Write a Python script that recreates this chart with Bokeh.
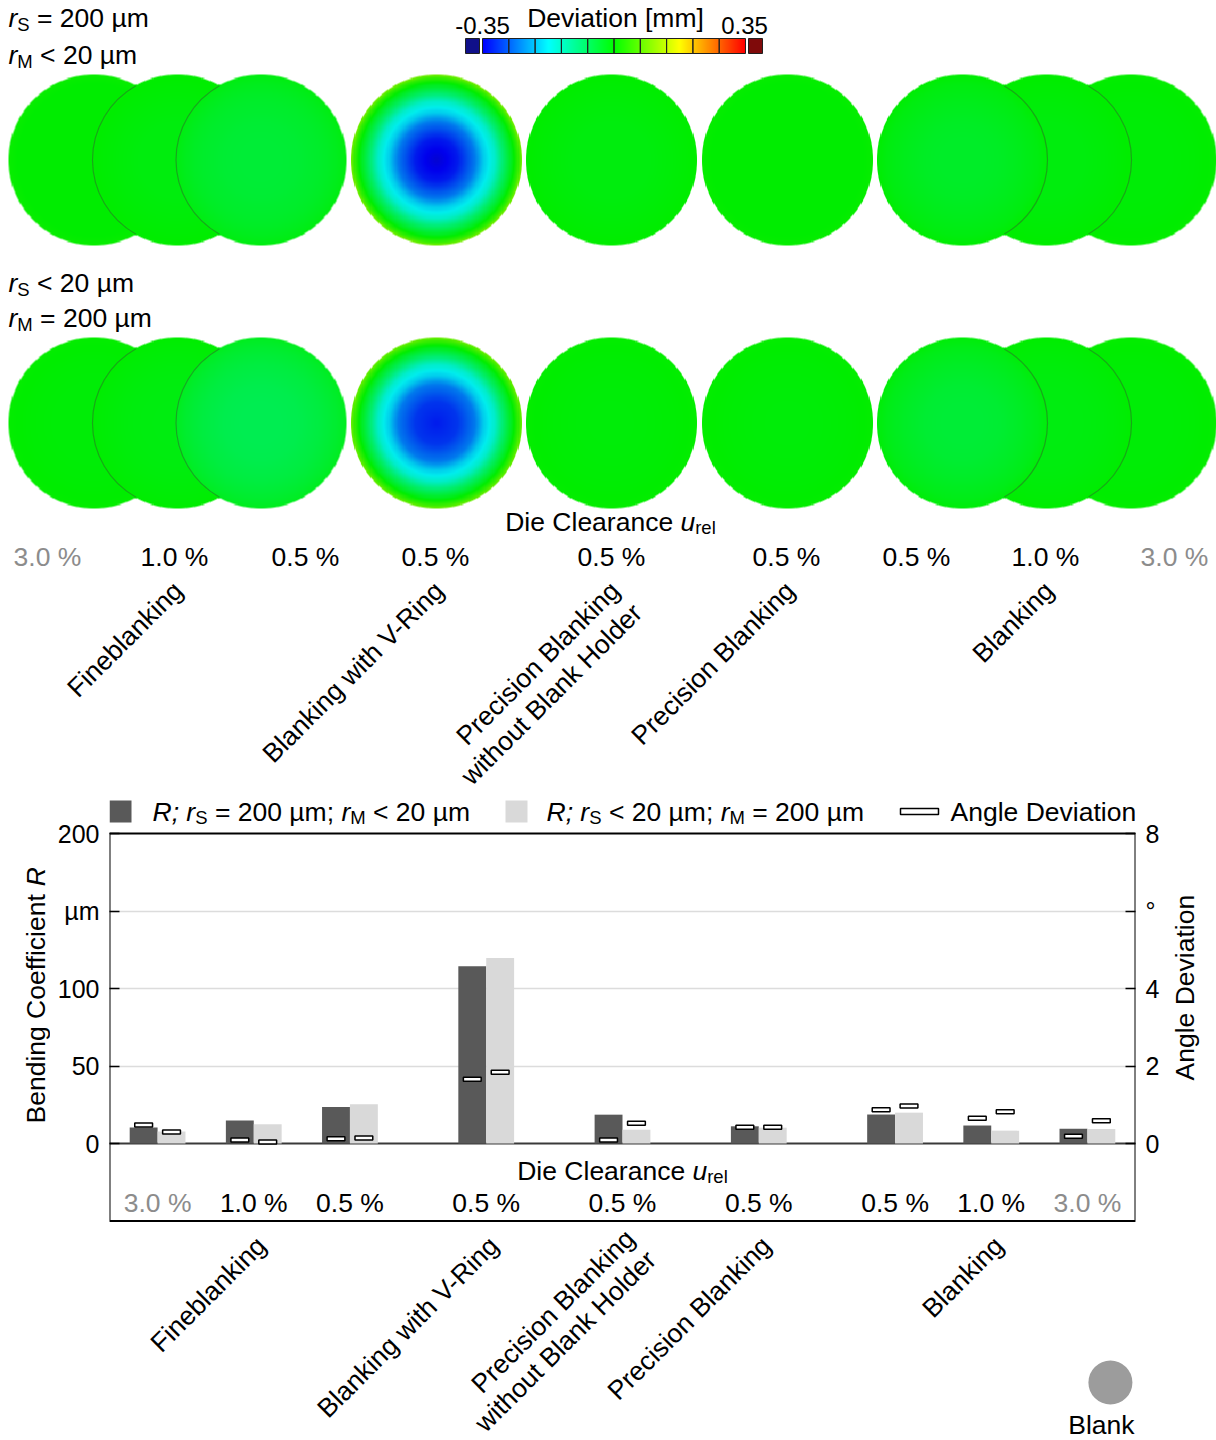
import numpy as np
from bokeh.plotting import figure
from bokeh.models import (ColumnDataSource, FactorRange, Range1d, LinearAxis,
                          FixedTicker, Span, BoxAnnotation)
from bokeh.transform import dodge
from bokeh.layouts import row
from bokeh.core.properties import value
from bokeh.embed import file_html
from bokeh.resources import INLINE

# ------------------------------------------------------------------ data
PROCESSES = ["Fineblanking", "Fineblanking", "Fineblanking", "Blanking with V-Ring",
             "Precision Blanking without Blank Holder", "Precision Blanking",
             "Blanking", "Blanking", "Blanking"]
CLEARANCE = ["3.0 %", "1.0 %", "0.5 %", "0.5 %", "0.5 %", "0.5 %", "0.5 %", "1.0 %", "3.0 %"]
GROUP_LABELS = ["Fineblanking", "Blanking with V-Ring",
                "Precision Blanking\nwithout Blank Holder", "Precision Blanking", "Blanking"]
GROUP_REP = [("Fineblanking", "1.0 %"), ("Blanking with V-Ring", "0.5 %"),
             ("Precision Blanking without Blank Holder", "0.5 %"),
             ("Precision Blanking", "0.5 %"), ("Blanking", "1.0 %")]

# bending coefficient R in um
R_S200 = [10.3, 14.8, 23.5, 114.3, 18.6, 11.1, 18.7, 11.6, 9.5]   # rS = 200 um, rM < 20 um
R_M200 = [7.7, 12.4, 25.3, 119.6, 8.9, 10.2, 19.9, 8.3, 9.4]      # rS < 20 um, rM = 200 um
# angle deviation in degree
ANGLE_S200 = [0.48, 0.09, 0.12, 1.66, 0.09, 0.42, 0.87, 0.65, 0.19]
ANGLE_M200 = [0.30, 0.04, 0.14, 1.84, 0.52, 0.42, 0.97, 0.82, 0.59]

Y_TICKS = [0, 50, 100, 150, 200]
Y_TICK_LABELS = ["0", "50", "100", "µm", "200"]
Y_GRID = [50, 100, 150]
ANG_TICKS = [0, 2, 4, 6, 8]
ANG_TICK_LABELS = ["0", "2", "4", "°", "8"]

DEV_LIMIT = 0.35
PROFILE_R = [0.0, 0.25, 0.45, 0.55, 0.68, 0.78, 0.88, 0.96, 1.0]
DEV_ROW_S200 = [
    [0.0, 0.0, 0.0, 0.0, 0.0, 0.0, 0.0, 0.004, 0.008],
    [-0.01, -0.01, -0.01, -0.008, -0.006, -0.004, -0.002, 0.0, 0.004],
    [-0.04, -0.04, -0.038, -0.035, -0.032, -0.028, -0.022, -0.016, -0.01],
    [-0.37, -0.33, -0.26, -0.20, -0.15, -0.08, -0.02, 0.04, 0.09],
    [-0.01, -0.01, -0.01, -0.008, -0.006, -0.004, -0.002, 0.0, 0.004],
    [0.0, 0.0, 0.0, 0.0, 0.0, 0.0, 0.0, 0.003, 0.006],
    [-0.03, -0.03, -0.027, -0.024, -0.02, -0.016, -0.012, -0.006, 0.0],
    [-0.01, -0.01, -0.01, -0.008, -0.006, -0.004, -0.002, 0.0, 0.004],
    [-0.005, -0.005, -0.005, -0.004, -0.003, -0.002, 0.0, 0.002, 0.005],
]
DEV_ROW_M200 = [
    [-0.005, -0.005, -0.005, -0.004, -0.003, -0.002, 0.0, 0.002, 0.005],
    [-0.012, -0.012, -0.011, -0.01, -0.008, -0.006, -0.004, -0.002, 0.002],
    [-0.06, -0.06, -0.057, -0.053, -0.048, -0.042, -0.035, -0.028, -0.02],
    [-0.33, -0.31, -0.26, -0.20, -0.15, -0.08, -0.02, 0.04, 0.08],
    [-0.006, -0.006, -0.005, -0.004, -0.003, -0.002, 0.0, 0.002, 0.004],
    [-0.006, -0.006, -0.005, -0.004, -0.003, -0.002, 0.0, 0.002, 0.004],
    [-0.04, -0.04, -0.037, -0.033, -0.028, -0.023, -0.018, -0.011, -0.005],
    [-0.012, -0.012, -0.011, -0.01, -0.008, -0.006, -0.004, -0.002, 0.002],
    [-0.005, -0.005, -0.005, -0.004, -0.003, -0.002, 0.0, 0.002, 0.005],
]

# ------------------------------------------------------------------ styles / layout
FONT = "Liberation Sans"
FS = 26.5
FS_SUB = 18.5
FS_TICK = 25
SUB_DROP_PX = 6
DARK = "#595959"
LIGHT = "#d9d9d9"
GRAY_TXT = "#8c8c8c"
PCT_COLOR = {"3.0 %": GRAY_TXT}
PAGE_W, PAGE_H = 1216, 1440

W = {' ': 278, '\u00a0': 278, '%': 889, '.': 278, '-': 333, ';': 278, '<': 584, '=': 584,
     '[': 278, ']': 278, '°': 400, 'µ': 576}
for ch in "0123456789":
    W[ch] = 556
for ch, w in zip("ABCDEFGHIJKLMNOPQRSTUVWXYZ",
                 [667, 667, 722, 722, 667, 611, 778, 722, 278, 500, 667, 556, 833, 722, 778,
                  667, 778, 722, 667, 611, 722, 667, 944, 667, 667, 611]):
    W[ch] = w
for ch, w in zip("abcdefghijklmnopqrstuvwxyz",
                 [556, 556, 500, 556, 556, 278, 556, 556, 222, 222, 500, 222, 833, 556, 556,
                  556, 556, 333, 500, 278, 556, 500, 722, 500, 500, 500]):
    W[ch] = w


def text_width(s, size):
    return sum(W.get(c, 556) for c in s) / 1000.0 * size


def new_store():
    return {k: [] for k in ("x", "y", "text", "xo", "size", "style", "color")}


def add_rich(store, pieces, x, y, drop, anchor="left", color="black", fs=FS, fs_sub=FS_SUB,
             shift_px=0.0):
    sizes = [fs_sub if k == "sub" else fs for _, k in pieces]
    widths = [text_width(t, s) for (t, _), s in zip(pieces, sizes)]
    off = -sum(widths) / 2.0 if anchor == "center" else 0.0
    off += shift_px
    for (t, k), s, w in zip(pieces, sizes, widths):
        store["x"].append(x)
        store["y"].append(y - drop if k == "sub" else y)
        store["text"].append(t.replace(" ", "\u00a0"))
        store["xo"].append(off)
        store["size"].append(f"{s}px")
        store["style"].append("italic" if k == "i" else "normal")
        store["color"].append(color)
        off += w


def draw_rich(p, store, baseline="middle"):
    p.text(x="x", y="y", text="text", x_offset="xo", text_font_size="size",
           text_font_style="style", text_color="color", text_font=value(FONT),
           text_align="left", text_baseline=baseline, source=ColumnDataSource(store))


def dev_rgb(d, v=1.0):
    d = np.asarray(d, dtype=float)
    t = np.clip((d + DEV_LIMIT) / (2 * DEV_LIMIT), 0, 1)
    h = (1 - t) * 4.0
    xx = 1 - np.abs(np.mod(h, 2) - 1)
    r = np.where(h < 1, 1.0, np.where(h < 2, xx, 0.0))
    g = np.where(h < 1, xx, np.where(h < 3, 1.0, xx))
    b = np.where(h < 2, 0.0, np.where(h < 3, xx, 1.0))
    rgb = np.stack([r, g, b], axis=-1) * v
    under = np.clip((-DEV_LIMIT - d) / 0.08, 0, 1)[..., None]
    over = np.clip((d - DEV_LIMIT) / 0.08, 0, 1)[..., None]
    navy = np.array([0.06, 0.06, 0.52])
    dred = np.array([0.5, 0.04, 0.04])
    rgb = rgb * (1 - under) + navy * under
    rgb = rgb * (1 - over) + dred * over
    return (rgb * 255).astype(np.uint8)


def disc_rgba(profile, n=150, v=0.93):
    c = (np.arange(n) + 0.5) / n * 2 - 1
    X, Y = np.meshgrid(c, c)
    r = np.sqrt(X ** 2 + Y ** 2)
    d = np.interp(r, PROFILE_R, profile)
    img = np.zeros((n, n), dtype=np.uint32)
    view = img.view(dtype=np.uint8).reshape((n, n, 4))
    view[..., :3] = dev_rgb(d, v)
    view[..., 3] = (np.clip((1 - r) * n / 2 + 0.5, 0, 1) * 255).astype(np.uint8)
    return img


def bare(p):
    p.grid.visible = False
    p.background_fill_color = "white"
    p.border_fill_color = "white"


# ================================================================== figure A (maps)
FIGA_H = 795


def ya(yref):
    return FIGA_H - yref


pa = figure(width=PAGE_W, height=FIGA_H, x_range=Range1d(0, PAGE_W), y_range=Range1d(0, FIGA_H),
            min_border=0, x_axis_location=None, y_axis_location=None,
            toolbar_location=None, output_backend="svg", outline_line_color=None)
bare(pa)

DISC_X = [93.5, 177, 260.5, 436, 611, 787, 962, 1046, 1130.5]
ROW_Y = [159.5, 422.5]
DISC_R = 85.5
DRAW_ORDER = [0, 1, 2, 3, 4, 5, 8, 7, 6]
OVERLAPS = [(1, 0), (2, 1), (7, 8), (6, 7)]   # (disc on top, disc below)

imgs, ix, iy, idw, idh = [], [], [], [], []
for rowy, profiles in zip(ROW_Y, [DEV_ROW_S200, DEV_ROW_M200]):
    for k in DRAW_ORDER:
        imgs.append(disc_rgba(profiles[k]))
        ix.append(DISC_X[k] - DISC_R)
        iy.append(ya(rowy) - DISC_R)
        idw.append(2 * DISC_R)
        idh.append(2 * DISC_R)
pa.image_rgba(image=imgs, x=ix, y=iy, dw=idw, dh=idh)

# visible rims where one disc lies on top of its neighbour
ax_, ay_, a0_, a1_ = [], [], [], []
for rowy in ROW_Y:
    for top, below in OVERLAPS:
        dx = DISC_X[below] - DISC_X[top]
        th = 0.0 if dx > 0 else np.pi
        ph = np.arccos(min(abs(dx) / (2 * DISC_R), 1.0))
        ax_.append(DISC_X[top])
        ay_.append(ya(rowy))
        a0_.append(th - ph)
        a1_.append(th + ph)
pa.arc(x=ax_, y=ay_, radius=DISC_R - 0.5, start_angle=a0_, end_angle=a1_,
       line_color="#2b6b2b", line_alpha=0.55, line_width=1.2)

# colour bar
CB_X0, CB_X1, CB_Y0, CB_Y1 = 482, 745, 38, 53
cb_n = 263
cb = np.zeros((1, cb_n), dtype=np.uint32)
cbv = cb.view(dtype=np.uint8).reshape((1, cb_n, 4))
cbv[..., :3] = dev_rgb(np.linspace(-DEV_LIMIT, DEV_LIMIT, cb_n))[None, :, :]
cbv[..., 3] = 255
pa.image_rgba(image=[cb], x=[CB_X0], y=[ya(CB_Y1)], dw=[CB_X1 - CB_X0], dh=[CB_Y1 - CB_Y0])
ncell = 10
cw = (CB_X1 - CB_X0) / ncell
pa.rect(x=[CB_X0 + (i + 0.5) * cw for i in range(ncell)], y=[ya((CB_Y0 + CB_Y1) / 2)] * ncell,
        width=cw, height=CB_Y1 - CB_Y0, fill_color=None, line_color="#202020", line_width=1)
pa.rect(x=[CB_X0 - 10, CB_X1 + 10], y=[ya((CB_Y0 + CB_Y1) / 2)] * 2, width=14,
        height=CB_Y1 - CB_Y0, fill_color=["#10108a", "#7f0a0a"], line_color="#202020",
        line_width=1)

sa = new_store()
add_rich(sa, [("r", "i"), ("S", "sub"), (" = 200 µm", "n")], 8, ya(17.5), SUB_DROP_PX)
add_rich(sa, [("r", "i"), ("M", "sub"), (" < 20 µm", "n")], 8, ya(54.5), SUB_DROP_PX)
add_rich(sa, [("r", "i"), ("S", "sub"), (" < 20 µm", "n")], 8, ya(282.5), SUB_DROP_PX)
add_rich(sa, [("r", "i"), ("M", "sub"), (" = 200 µm", "n")], 8, ya(317.5), SUB_DROP_PX)
add_rich(sa, [("Die Clearance ", "n"), ("u", "i"), ("rel", "sub")], 610, ya(521), SUB_DROP_PX,
         anchor="center")
add_rich(sa, [("Deviation [mm]", "n")], 615, ya(17), 0, anchor="center")
add_rich(sa, [("-0.35", "n")], 482, ya(25), 0, anchor="center", fs=24)
add_rich(sa, [("0.35", "n")], 744, ya(25), 0, anchor="center", fs=24)
draw_rich(pa, sa)

TOP_PCT_X = [47, 174, 305, 435, 611, 786, 916, 1045, 1174]
pa.text(x=TOP_PCT_X, y=[ya(556)] * len(TOP_PCT_X), text=CLEARANCE,
        text_color=[PCT_COLOR.get(c, "black") for c in CLEARANCE],
        text_font=value(FONT), text_font_size=f"{FS}px", text_align="center",
        text_baseline="middle")

TOP_GROUP_X = [174, 435, 611, 786, 1045]
pa.text(x=[gx - 7 for gx in TOP_GROUP_X], y=[ya(575)] * len(TOP_GROUP_X), text=GROUP_LABELS,
        angle=np.pi / 4, text_font=value(FONT), text_font_size=f"{FS}px",
        text_align="right", text_baseline="top", text_line_height=1.05, text_color="black")

# ================================================================== figure B (bars)
TITLE_L_W = 50          # strip left of the bar chart holding the left axis title
TITLE_R_X = 1165        # strip right of the bar chart holding the right axis title
FRAME_L, FRAME_R = 109, 1135
FIG_TOP, FIG_BOT = FIGA_H, PAGE_H
FIGB_H = FIG_BOT - FIG_TOP
ZERO_PX = 1143
PX_PER_UNIT = 1.55
GROUP_PAD = 0.417
BW = 0.29
LABEL_LIFT_PX = [0, 0, 7, 0, 0]   # lift of the rotated group labels below the chart


def yb(ref):
    return (ZERO_PX - ref) / PX_PER_UNIT


factors = list(zip(PROCESSES, CLEARANCE))
n_groups = len(GROUP_LABELS)
TOTAL = len(factors) + (n_groups - 1) * GROUP_PAD
SCALE = (FRAME_R - FRAME_L) / TOTAL


def xs(ref):
    return (ref - FRAME_L) / SCALE


YB0, YB1 = yb(FIG_BOT), yb(FIG_TOP)
ANG_RATIO = Y_TICKS[-1] / ANG_TICKS[-1]

xr = FactorRange(factors=factors, group_padding=GROUP_PAD, factor_padding=0, range_padding=0)
pb = figure(width=TITLE_R_X - TITLE_L_W, height=FIGB_H, x_range=xr, y_range=Range1d(YB0, YB1),
            min_border_left=FRAME_L - TITLE_L_W, min_border_right=TITLE_R_X - FRAME_R,
            min_border_top=0, min_border_bottom=0, x_axis_location=None,
            y_axis_location="left", toolbar_location=None, output_backend="svg",
            outline_line_color=None)
pb.background_fill_color = "white"
pb.border_fill_color = "white"
pb.extra_y_ranges = {"ang": Range1d(YB0 / ANG_RATIO, YB1 / ANG_RATIO)}

ax = pb.yaxis[0]
ax.ticker = FixedTicker(ticks=Y_TICKS)
ax.major_label_overrides = dict(zip(Y_TICKS, Y_TICK_LABELS))
ra = LinearAxis(y_range_name="ang", ticker=FixedTicker(ticks=ANG_TICKS),
                major_label_overrides=dict(zip(ANG_TICKS, ANG_TICK_LABELS)))
pb.add_layout(ra, "right")
for a, st in ((ax, 10), (ra, 10)):
    a.axis_line_color = None
    a.major_tick_in = 10
    a.major_tick_out = 0
    a.major_tick_line_color = "black"
    a.major_tick_line_width = 1.5
    a.minor_tick_line_color = None
    a.major_label_text_font = FONT
    a.major_label_text_font_size = f"{FS_TICK}px"
    a.major_label_text_color = "black"
    a.major_label_standoff = st

pb.xgrid.visible = False
pb.ygrid.ticker = FixedTicker(ticks=Y_GRID)
pb.ygrid.grid_line_color = "#dcdcdc"
pb.ygrid.grid_line_width = 1.5

pb.add_layout(Span(location=0, dimension="width", line_color="#3a3a3a", line_width=2,
                   level="underlay"))
pb.add_layout(BoxAnnotation(bottom=-50, top=Y_TICKS[-1], fill_color=None, fill_alpha=0,
                            line_color="black", line_alpha=1, line_width=2))

src = ColumnDataSource(dict(x=factors, rs=R_S200, rm=R_M200, a_s=ANGLE_S200, a_m=ANGLE_M200))
pb.vbar(x=dodge("x", -BW / 2, range=pb.x_range), top="rs", width=BW, source=src,
        fill_color=DARK, line_color=None)
pb.vbar(x=dodge("x", BW / 2, range=pb.x_range), top="rm", width=BW, source=src,
        fill_color=LIGHT, line_color=None)
for col, off in (("a_s", -BW / 2), ("a_m", BW / 2)):
    pb.rect(x=dodge("x", off, range=pb.x_range), y=col, width=0.185, height=4,
            height_units="screen", y_range_name="ang", source=src, fill_color="white",
            line_color="black", line_width=1.5)

# legend
LEG_Y = yb(811)
pb.rect(x=[xs(120), xs(516)], y=[LEG_Y] * 2, width=22, height=22, width_units="screen",
        height_units="screen", fill_color=[DARK, LIGHT], line_color=None)
pb.rect(x=[xs(919)], y=[LEG_Y], width=38, height=6, width_units="screen",
        height_units="screen", fill_color="white", line_color="black", line_width=1.5)

sb = new_store()
XC = TOTAL / 2
XC_PX = FRAME_L + XC * SCALE
sub_drop = SUB_DROP_PX / PX_PER_UNIT
leg1 = [("R;", "i"), (" ", "n"), ("r", "i"), ("S", "sub"), (" = 200 µm; ", "n"),
        ("r", "i"), ("M", "sub"), (" < 20 µm", "n")]
leg2 = [("R;", "i"), (" ", "n"), ("r", "i"), ("S", "sub"), (" < 20 µm; ", "n"),
        ("r", "i"), ("M", "sub"), (" = 200 µm", "n")]
for pieces, px0 in ((leg1, 152), (leg2, 546), ([("Angle Deviation", "n")], 950)):
    add_rich(sb, pieces, XC, LEG_Y, sub_drop, shift_px=px0 - XC_PX)
add_rich(sb, [("Die Clearance ", "n"), ("u", "i"), ("rel", "sub")], XC, yb(1170), sub_drop,
         anchor="center")
draw_rich(pb, sb)

pb.text(x=factors, y=[yb(1202)] * len(factors), text=CLEARANCE,
        text_color=[PCT_COLOR.get(c, "black") for c in CLEARANCE],
        text_font=value(FONT), text_font_size=f"{FS}px", text_align="center",
        text_baseline="middle")

gsrc = ColumnDataSource(dict(x=GROUP_REP, y=[yb(1230 - lift) for lift in LABEL_LIFT_PX],
                             text=GROUP_LABELS))
pb.text(x=dodge("x", -3 / SCALE, range=pb.x_range), y="y", text="text", source=gsrc,
        angle=np.pi / 4, text_font=value(FONT), text_font_size=f"{FS}px",
        text_align="right", text_baseline="top", text_line_height=1.0, text_color="black")

# blank symbol
bsrc = ColumnDataSource(dict(x=[("Blanking", "3.0 %")], y=[yb(1382)], ty=[yb(1424)],
                             text=["Blank"]))
pb.scatter(x=dodge("x", 23 / SCALE, range=pb.x_range), y="y", size=44, source=bsrc,
           fill_color="#9c9c9c", line_color=None)
pb.text(x=dodge("x", 14 / SCALE, range=pb.x_range), y="ty", text="text", source=bsrc,
        text_font=value(FONT), text_font_size=f"{FS}px", text_align="center",
        text_baseline="middle", text_color="black")


# ---------------------------------------------------------------- axis title strips
def strip(width):
    p = figure(width=width, height=FIGB_H, x_range=Range1d(0, width),
               y_range=Range1d(0, FIGB_H), min_border=0, x_axis_location=None,
               y_axis_location=None, toolbar_location=None, output_backend="svg",
               outline_line_color=None)
    bare(p)
    return p


pl = strip(TITLE_L_W)
sl = {"x": [35, 35], "y": [FIG_BOT - 1123, FIG_BOT - 1123 + text_width("Bending Coefficient ", FS)],
      "text": ["Bending Coefficient", "R"], "style": ["normal", "italic"]}
pl.text(x="x", y="y", text="text", text_font_style="style", source=ColumnDataSource(sl),
        angle=np.pi / 2, text_align="left", text_baseline="middle", text_font=value(FONT),
        text_font_size=f"{FS}px", text_color="black")

pr = strip(PAGE_W - TITLE_R_X)
pr.text(x=[1184 - TITLE_R_X], y=[FIG_BOT - 1080], text=["Angle Deviation"], angle=np.pi / 2,
        text_align="left", text_baseline="middle", text_font=value(FONT),
        text_font_size=f"{FS}px", text_color="black")

open("out.html", "w").write(file_html([pa, row(pl, pb, pr)], INLINE))
